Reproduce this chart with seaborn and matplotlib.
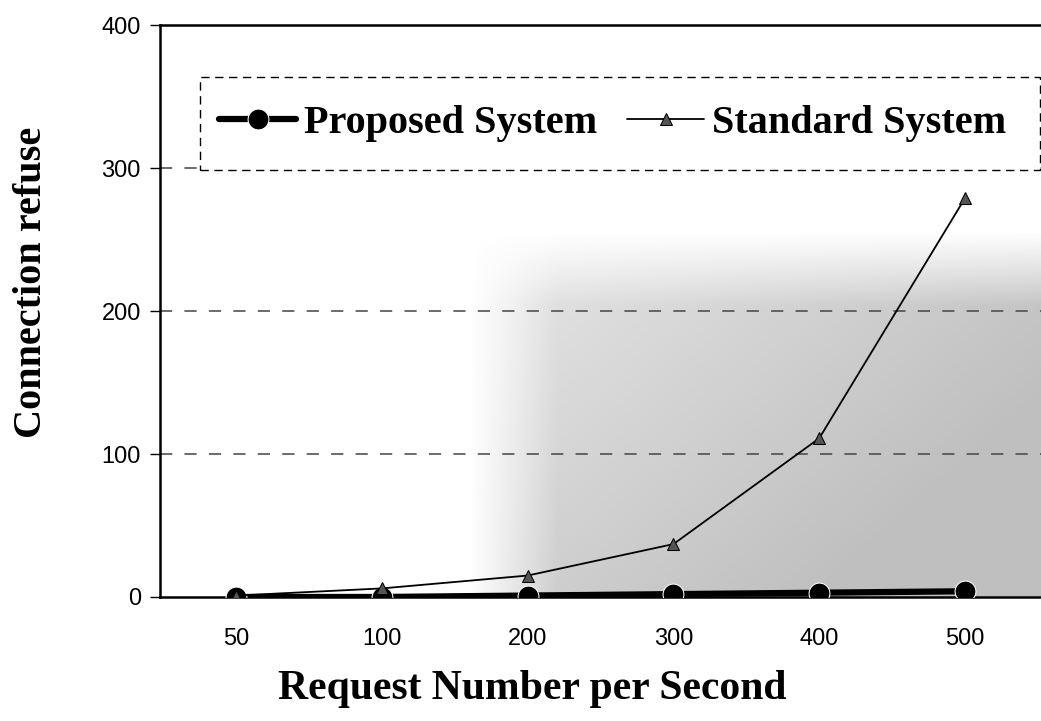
import numpy as np
import pandas as pd
import matplotlib
matplotlib.use("Agg")
import matplotlib.pyplot as plt
from matplotlib.patches import Rectangle
import seaborn as sns

# Data
requests = ["50", "100", "200", "300", "400", "500"]
proposed = [0, 0, 1, 2, 3, 4]
standard = [1, 6, 15, 37, 111, 279]

sns.set_style("white")
plt.rcParams['font.family'] = ['Liberation Sans', 'DejaVu Sans']
plt.rcParams['text.color'] = 'black'
plt.rcParams['xtick.color'] = 'black'
plt.rcParams['ytick.color'] = 'black'
plt.rcParams['axes.labelcolor'] = 'black'

df = pd.DataFrame({
    "Request": requests * 2,
    "Refused": proposed + standard,
    "System": ["Proposed System"] * len(requests) + ["Standard System"] * len(requests),
})

fig = plt.figure(figsize=(10.41, 7.21), dpi=100)
ax = fig.add_axes([0.154, 0.172, 0.85, 0.793])

# scanned gray stipple in lower right
grad = np.linspace(0, 1, 300)
gx, gy = np.meshgrid(grad, grad[::-1])
shade = np.clip(0.35 + 0.5 * gx + 0.35 * (1 - gy), 0, 1)
shade *= np.clip(gx / 0.15, 0, 1) * np.clip((1 - gy) / 0.2, 0, 1)
img = np.zeros((300, 300, 4))
img[..., :3] = 0.5
img[..., 3] = shade * 0.5
ax.imshow(img, extent=[1.6, 5.6, 0, 255], aspect='auto', zorder=0, interpolation='bilinear')

for y in [100, 200, 300]:
    ax.axhline(y, color='#444444', lw=1.1, ls=(0, (8, 8)), zorder=1)

sns.lineplot(data=df[df.System == "Proposed System"], x="Request", y="Refused",
             color='black', lw=4.5, marker='o', markersize=15, sort=False,
             label="Proposed System", ax=ax, zorder=3)
sns.lineplot(data=df[df.System == "Standard System"], x="Request", y="Refused",
             color='black', lw=1.3, marker='^', markersize=9, sort=False,
             markerfacecolor='#555555', markeredgecolor='black',
             label="Standard System", ax=ax, zorder=4)

ax.set_xlim(-0.52, 5.55)
ax.set_ylim(0, 400)
ax.set_yticks([0, 100, 200, 300, 400])
ax.tick_params(axis='y', which='both', left=True, length=7, width=1, labelsize=17, pad=7)
ax.tick_params(axis='x', bottom=False, labelsize=17, pad=19)

for s in ['left', 'bottom', 'top']:
    ax.spines[s].set_color('black')
    ax.spines[s].set_linewidth(1.8)
ax.spines['right'].set_visible(False)

serif = ['Liberation Serif', 'DejaVu Serif']
ax.set_xlabel("Request Number per Second", family=serif, weight='bold', fontsize=30)
ax.set_ylabel("Connection refuse", family=serif, weight='bold', fontsize=29)
ax.xaxis.set_label_coords(0.42, -0.128)
ax.yaxis.set_label_coords(-0.125, 0.551)

# dashed legend box
ax.add_patch(Rectangle((0.045, 0.747), 0.949, 0.163, transform=ax.transAxes,
                       facecolor='white', edgecolor='black', lw=1.0, ls=(0, (6, 4)),
                       zorder=2, clip_on=False))
leg = ax.legend(loc='center left', bbox_to_anchor=(0.0667, 0.829), borderaxespad=0,
                ncol=2, frameon=False,
                prop={'family': serif, 'weight': 'bold', 'size': 29},
                handlelength=1.9, columnspacing=0.75, borderpad=0.0,
                handletextpad=0.2)

fig.savefig("out.png", dpi=100)
